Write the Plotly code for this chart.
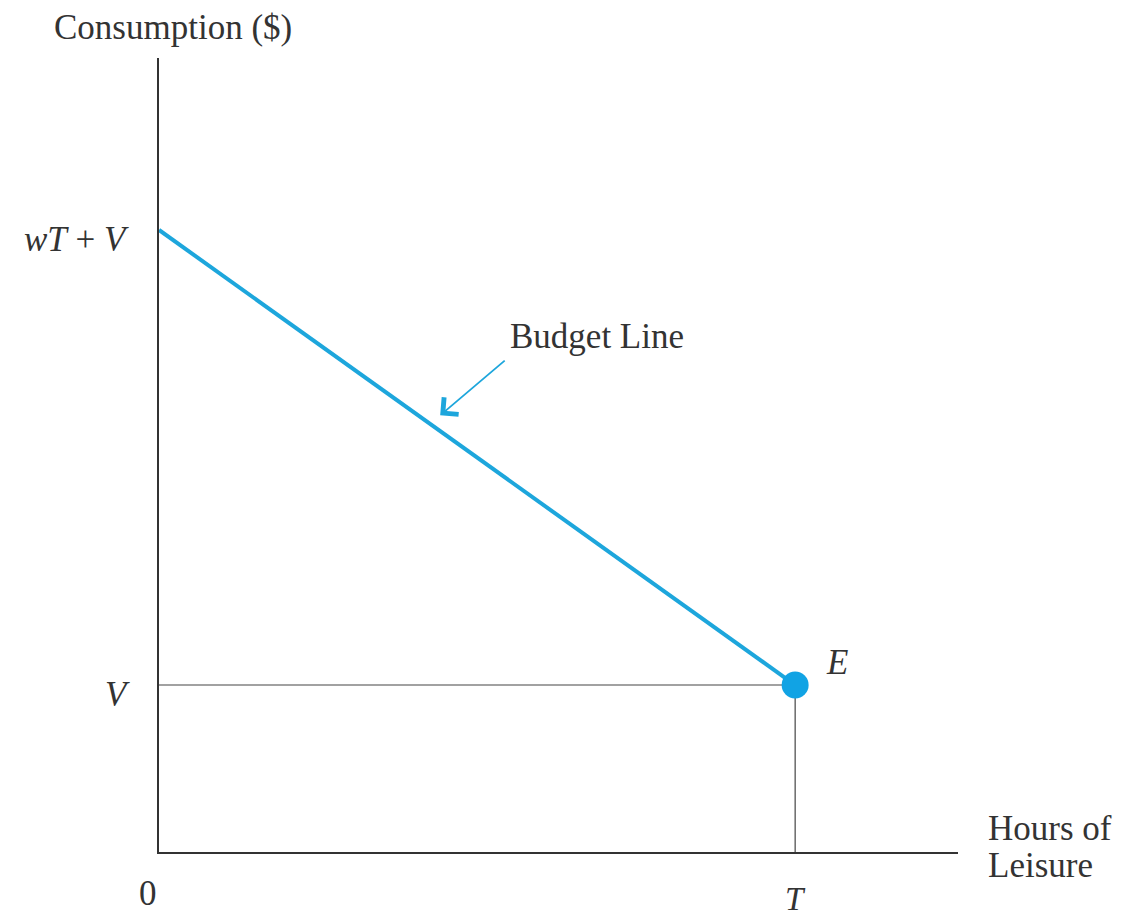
import plotly.graph_objects as go

# Data (abstract units)
T_hours = 10.0          # total hours T
V_income = 20.0         # non-labor income V
max_consumption = 74.5  # wT + V
x_max = 12.56
y_max = 95.1

budget_x = [0, T_hours]
budget_y = [max_consumption, V_income]

line_blue = "#1da6dc"
dot_blue = "#11a3e4"
ink = "#333333"
serif = "Liberation Serif, Times New Roman, serif"

fig = go.Figure()

# reference lines
fig.add_trace(go.Scatter(x=[0, T_hours], y=[V_income, V_income], mode="lines",
                         line=dict(color="#444444", width=1.2), hoverinfo="skip"))
fig.add_trace(go.Scatter(x=[T_hours, T_hours], y=[0, V_income], mode="lines",
                         line=dict(color="#444444", width=1.2), hoverinfo="skip"))
# budget line
fig.add_trace(go.Scatter(x=budget_x, y=budget_y, mode="lines",
                         line=dict(color=line_blue, width=4), hoverinfo="skip"))
# endowment point E
fig.add_trace(go.Scatter(x=[T_hours], y=[V_income], mode="markers",
                         marker=dict(color=dot_blue, size=27), hoverinfo="skip"))

ann = []
font_main = dict(family=serif, size=35, color=ink)
ann.append(dict(x=0, y=1, xref="paper", yref="paper", text="Consumption ($)",
                showarrow=False, xanchor="center", yanchor="bottom", xshift=14, yshift=9,
                font=font_main))
ann.append(dict(x=0, y=max_consumption, xref="x", yref="y", text="<i>wT</i> + <i>V</i>",
                showarrow=False, xanchor="right", yanchor="middle", xshift=-28, yshift=-10,
                font=font_main))
ann.append(dict(x=0, y=V_income, xref="x", yref="y", text="<i>V</i>",
                showarrow=False, xanchor="right", yanchor="middle", xshift=-27, yshift=-9,
                font=font_main))
ann.append(dict(x=0, y=0, xref="x", yref="y", text="0",
                showarrow=False, xanchor="center", yanchor="middle", xshift=-11, yshift=-41,
                font=font_main))
ann.append(dict(x=T_hours, y=0, xref="x", yref="y", text="<i>T</i>",
                showarrow=False, xanchor="center", yanchor="middle", yshift=-47,
                font=dict(family=serif, size=33, color=ink)))
ann.append(dict(x=T_hours, y=V_income, xref="x", yref="y", text="<i>E</i>",
                showarrow=False, xanchor="center", yanchor="middle", xshift=42, yshift=23,
                font=font_main))
ann.append(dict(x=1, y=0, xref="paper", yref="y", text="Hours of",
                showarrow=False, xanchor="left", yanchor="middle", align="left", xshift=28, yshift=24,
                font=font_main))
ann.append(dict(x=1, y=0, xref="paper", yref="y", text="Leisure",
                showarrow=False, xanchor="left", yanchor="middle", align="left", xshift=28, yshift=-13,
                font=font_main))
# Budget line label with arrow
ann.append(dict(x=4.42, y=52.3, xref="x", yref="y", text="",
                showarrow=True, ax=66, ay=-56, arrowhead=4, arrowsize=2.4, arrowwidth=1.8,
                arrowcolor=line_blue))
ann.append(dict(x=4.42, y=52.3, xref="x", yref="y", text="Budget Line",
                showarrow=False, xanchor="left", yanchor="middle", xshift=68, yshift=79,
                font=font_main))

fig.update_layout(
    width=1113, height=910,
    margin=dict(l=151, r=163, t=50, b=66),
    paper_bgcolor="white", plot_bgcolor="white",
    showlegend=False,
    annotations=ann,
    xaxis=dict(range=[0, x_max], showgrid=False, zeroline=False, showticklabels=False,
               ticks="", showline=True, linecolor=ink, linewidth=2, mirror=False),
    yaxis=dict(range=[0, y_max], showgrid=False, zeroline=False, showticklabels=False,
               ticks="", showline=True, linecolor=ink, linewidth=2, mirror=False),
)

fig.write_html("out.html")
